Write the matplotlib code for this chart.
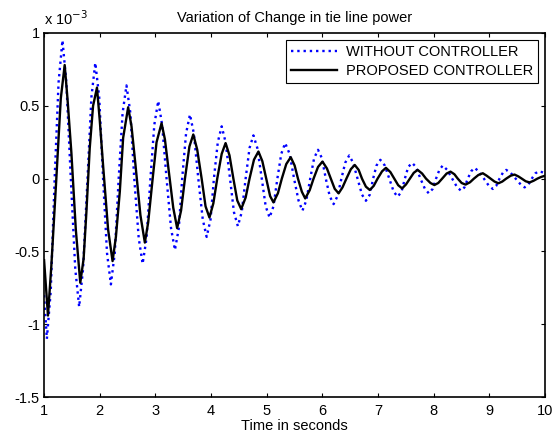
import matplotlib
matplotlib.use("Agg")
import matplotlib.pyplot as plt

plt.rcParams['font.family'] = ['Liberation Sans', 'DejaVu Sans']

# values in units of 1e-3
t_without = [1.00, 1.05, 1.12, 1.19, 1.26, 1.33, 1.40, 1.48, 1.56, 1.63, 1.70, 1.78,
             1.85, 1.92, 1.99, 2.06, 2.13, 2.20, 2.27, 2.34, 2.41, 2.48, 2.55, 2.62,
             2.70, 2.77, 2.84, 2.91, 2.98, 3.05, 3.12, 3.20, 3.28, 3.35, 3.42, 3.48,
             3.55, 3.62, 3.69, 3.77, 3.85, 3.92, 3.99, 4.05, 4.12, 4.19, 4.26, 4.34,
             4.41, 4.48, 4.55, 4.62, 4.69, 4.76, 4.83, 4.91, 4.98, 5.05, 5.12, 5.19,
             5.26, 5.33, 5.41, 5.49, 5.57, 5.64, 5.71, 5.78, 5.85, 5.92, 5.99, 6.06,
             6.13, 6.20, 6.27, 6.34, 6.41, 6.48, 6.55, 6.63, 6.71, 6.78, 6.85, 6.91,
             6.97, 7.04, 7.12, 7.20, 7.28, 7.35, 7.42, 7.48, 7.54, 7.61, 7.68, 7.76,
             7.84, 7.91, 7.98, 8.04, 8.10, 8.16, 8.24, 8.33, 8.42, 8.49, 8.55, 8.61,
             8.67, 8.73, 8.81, 8.90, 8.99, 9.06, 9.12, 9.18, 9.24, 9.30, 9.38, 9.47,
             9.56, 9.63, 9.70, 9.76, 9.82, 9.88, 9.94, 10.00]
p_without = [-0.80, -1.10, -0.77, 0.00, 0.66, 0.95, 0.66, 0.00, -0.62, -0.88, -0.62, 0.00,
             0.56, 0.795, 0.56, 0.00, -0.51, -0.726, -0.51, 0.00, 0.45, 0.64, 0.45, 0.00,
             -0.41, -0.584, -0.41, 0.00, 0.37, 0.533, 0.37, 0.00, -0.34, -0.49, -0.34, 0.00,
             0.31, 0.44, 0.31, 0.00, -0.28, -0.40, -0.28, 0.00, 0.25, 0.359, 0.25, 0.00,
             -0.23, -0.326, -0.23, 0.00, 0.21, 0.297, 0.21, 0.00, -0.19, -0.267, -0.19, 0.00,
             0.17, 0.244, 0.17, 0.00, -0.15, -0.22, -0.15, 0.00, 0.14, 0.198, 0.14, 0.00,
             -0.12, -0.175, -0.12, 0.00, 0.11, 0.159, 0.11, 0.00, -0.11, -0.152, -0.11, 0.00,
             0.09, 0.129, 0.09, 0.00, -0.09, -0.124, -0.09, 0.00, 0.08, 0.108, 0.08, 0.00,
             -0.07, -0.101, -0.07, 0.00, 0.06, 0.090, 0.06, 0.00, -0.06, -0.083, -0.06, 0.00,
             0.05, 0.074, 0.05, 0.00, -0.05, -0.071, -0.05, 0.00, 0.04, 0.060, 0.04, 0.00,
             -0.04, -0.060, -0.04, 0.00, 0.035, 0.050, 0.045, 0.035]

t_proposed = [1.00, 1.07, 1.13, 1.22, 1.30, 1.37, 1.42, 1.49, 1.57, 1.65, 1.71, 1.76,
              1.82, 1.88, 1.95, 2.00, 2.06, 2.15, 2.23, 2.29, 2.36, 2.42, 2.51, 2.57,
              2.64, 2.73, 2.81, 2.87, 2.95, 3.02, 3.11, 3.17, 3.24, 3.32, 3.39, 3.46,
              3.53, 3.61, 3.68, 3.75, 3.83, 3.90, 3.97, 4.04, 4.11, 4.19, 4.26, 4.33,
              4.40, 4.47, 4.54, 4.62, 4.69, 4.77, 4.85, 4.92, 4.99, 5.06, 5.12, 5.20,
              5.27, 5.35, 5.43, 5.50, 5.56, 5.63, 5.69, 5.77, 5.84, 5.92, 6.00, 6.08,
              6.15, 6.22, 6.29, 6.36, 6.43, 6.51, 6.58, 6.65, 6.71, 6.78, 6.85, 6.92,
              6.99, 7.07, 7.14, 7.22, 7.29, 7.36, 7.43, 7.50, 7.57, 7.64, 7.71, 7.79,
              7.86, 7.94, 8.01, 8.08, 8.15, 8.23, 8.30, 8.37, 8.43, 8.50, 8.57, 8.65,
              8.72, 8.80, 8.88, 8.95, 9.02, 9.09, 9.16, 9.23, 9.30, 9.38, 9.45, 9.52,
              9.58, 9.65, 9.72, 9.79, 9.86, 9.93, 10.00]
p_proposed = [-0.56, -0.94, -0.60, 0.00, 0.55, 0.78, 0.55, 0.18, -0.35, -0.715, -0.55, -0.23,
              0.21, 0.50, 0.625, 0.40, 0.09, -0.35, -0.566, -0.40, -0.09, 0.28, 0.49, 0.36,
              0.10, -0.25, -0.439, -0.30, 0.00, 0.25, 0.38, 0.27, 0.05, -0.20, -0.34, -0.22,
              0.00, 0.22, 0.303, 0.20, 0.00, -0.19, -0.267, -0.17, 0.00, 0.17, 0.244, 0.16,
              0.00, -0.15, -0.209, -0.13, 0.00, 0.13, 0.186, 0.12, 0.00, -0.12, -0.163, -0.10,
              0.00, 0.10, 0.147, 0.09, 0.00, -0.09, -0.136, -0.08, 0.00, 0.08, 0.117, 0.07,
              0.00, -0.07, -0.101, -0.06, 0.00, 0.065, 0.094, 0.06, 0.00, -0.055, -0.078, -0.05,
              0.00, 0.05, 0.074, 0.045, 0.00, -0.045, -0.067, -0.04, 0.00, 0.04, 0.060, 0.035,
              0.00, -0.03, -0.044, -0.03, 0.00, 0.035, 0.048, 0.03, 0.00, -0.03, -0.041, -0.025,
              0.00, 0.025, 0.037, 0.02, 0.00, -0.02, -0.032, -0.02, 0.00, 0.02, 0.028, 0.015,
              0.00, -0.018, -0.026, -0.015, 0.00, 0.012, 0.02]

xticks = [1, 2, 3, 4, 5, 6, 7, 8, 9, 10]
yticks = [-1.5, -1, -0.5, 0, 0.5, 1]
ytick_labels = ['-1.5', '-1', '-0.5', '0', '0.5', '1']

fig = plt.figure(figsize=(5.58, 4.34), dpi=100)
ax = fig.add_axes([0.079, 0.085, 0.898, 0.839])

ax.plot(t_without, p_without, ':', color='blue', lw=1.7, label='WITHOUT CONTROLLER')
ax.plot(t_proposed, p_proposed, '-', color='black', lw=1.7, label='PROPOSED CONTROLLER')

ax.set_xlim(1, 10)
ax.set_ylim(-1.5, 1)
ax.set_xticks(xticks)
ax.set_xticklabels([str(x) for x in xticks])
ax.set_yticks(yticks)
ax.set_yticklabels(ytick_labels)
ax.tick_params(direction='in', top=True, right=True, length=3, labelsize=10.5, pad=3)
ax.tick_params(axis='x', pad=5)
for s in ax.spines.values():
    s.set_linewidth(1.2)

ax.set_title('Variation of Change in tie line power', fontsize=10.5, pad=8)
ax.set_xlabel('Time in seconds', fontsize=10.5, labelpad=1)
ax.text(0.0, 1.015, r'x 10$^{-3}$', transform=ax.transAxes, fontsize=10.5, va='bottom', ha='left')

leg = ax.legend(loc='upper right', fontsize=10.5, fancybox=False, framealpha=1,
                edgecolor='black', borderaxespad=0.5, handlelength=3.2, borderpad=0.3,
                labelspacing=0.4, handletextpad=0.6)
leg.get_frame().set_linewidth(0.8)

fig.savefig('out.png', dpi=100)
